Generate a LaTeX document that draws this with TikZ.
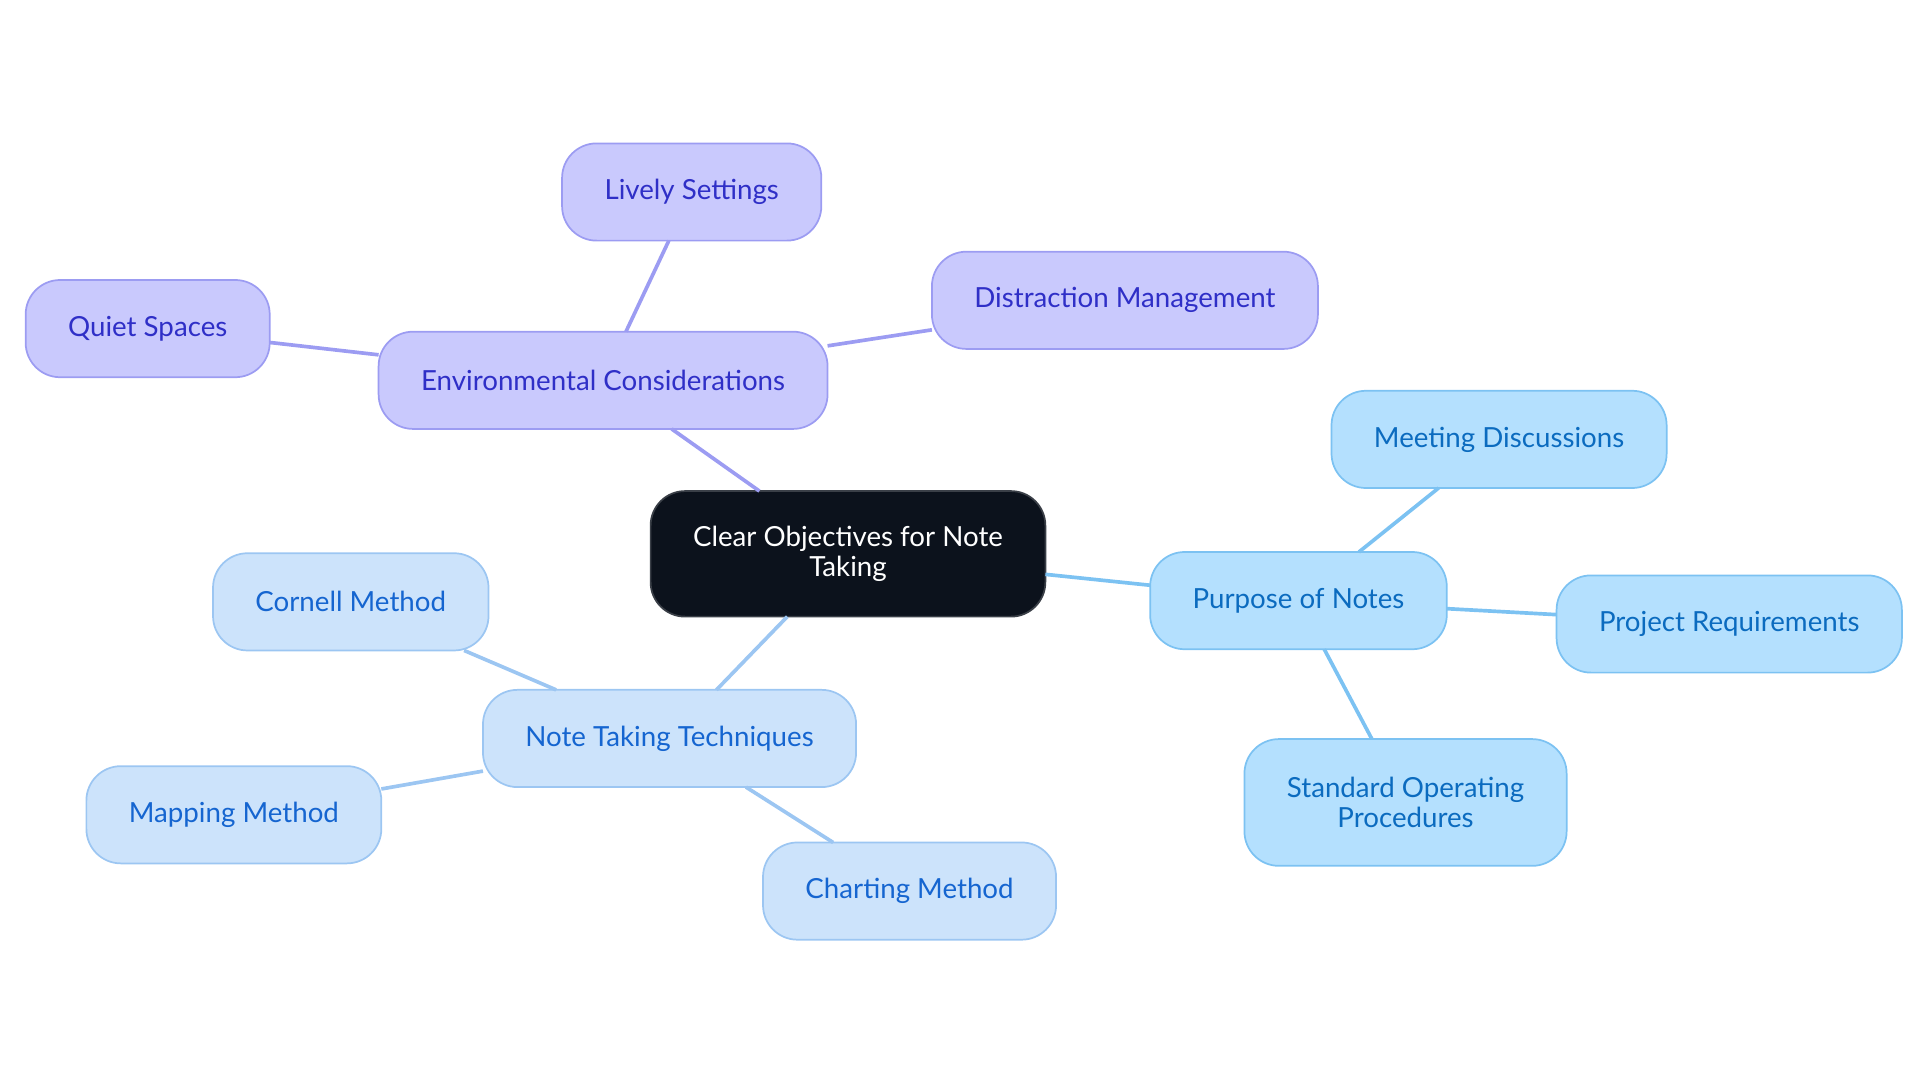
\documentclass[tikz,border=0pt]{standalone}
\usepackage{fontspec}
\setmainfont{Lato}
\definecolor{envfill}{HTML}{C9C9FD}
\definecolor{envline}{HTML}{9C9CF2}
\definecolor{envtext}{HTML}{2F2FC7}
\definecolor{purfill}{HTML}{B4E0FE}
\definecolor{purline}{HTML}{7CC2F2}
\definecolor{purtext}{HTML}{0B6BBF}
\definecolor{notefill}{HTML}{CCE3FB}
\definecolor{noteline}{HTML}{9CC6F2}
\definecolor{notetext}{HTML}{1565D0}
\definecolor{rootfill}{HTML}{0C121C}
\definecolor{rootline}{HTML}{3A3F47}
\tikzset{
  topic/.style={draw,rectangle,rounded corners=5.6mm,minimum height=15.8mm,
    inner xsep=6.9mm,outer sep=0pt,line width=.8pt,align=center,
    font=\fontsize{12.8}{13.7}\selectfont},
  envbox/.style={topic,fill=envfill,draw=envline,text=envtext},
  purbox/.style={topic,fill=purfill,draw=purline,text=purtext},
  notebox/.style={topic,fill=notefill,draw=noteline,text=notetext}
}
\begin{document}
\begin{tikzpicture}[x=0.2mm,y=-0.2mm]%
        \useasboundingbox (0,0) rectangle (1560,880);%%
        \node[topic,fill=rootfill,draw=rootline,text=white,minimum height=20.4mm] (c0) at (689,450) {Clear Objectives for Note\\Taking}; %%
        % environmental branch
        \node[envbox] (e0) at (490,309) {Environmental Considerations}; %%
        \node[envbox] (e1) at (562,156) {Lively Settings}; %%
        \node[envbox] (e2) at (120,267) {Quiet Spaces}; %%
        \node[envbox] (e3) at (914,244) {Distraction Management}; %%
        % purpose branch
        \node[purbox] (p0) at (1055,488) {Purpose of Notes}; %%
        \node[purbox] (p1) at (1218,357) {Meeting Discussions}; %%
        \node[purbox] (p2) at (1405,507) {Project Requirements}; %%
        \node[purbox,minimum height=20.6mm] (p3) at (1142,652) {Standard Operating\\Procedures}; %%
        % techniques branch
        \node[notebox] (n0) at (544,600) {Note Taking Techniques}; %%
        \node[notebox] (n1) at (285,489) {Cornell Method}; %%
        \node[notebox] (n2) at (190,662) {Mapping Method}; %%
        \node[notebox] (n3) at (739,724) {Charting Method}; %%
        \begin{scope}[line width=1.7pt]
        \draw[envline] (c0)--(e0); %%
        \draw[envline] (e0)--(e1); %%
        \draw[envline] (e0)--(e2); %%
        \draw[envline] (e0)--(e3); %%
        \draw[purline] (c0)--(p0); %%
        \draw[purline] (p0)--(p1); %%
        \draw[purline] (p0)--(p2); %%
        \draw[purline] (p0)--(p3); %%
        \draw[noteline] (c0)--(n0); %%
        \draw[noteline] (n0)--(n1); %%
        \draw[noteline] (n0)--(n2); %%
        \draw[noteline] (n0)--(n3); %%
        \end{scope}
\end{tikzpicture}
\end{document}
